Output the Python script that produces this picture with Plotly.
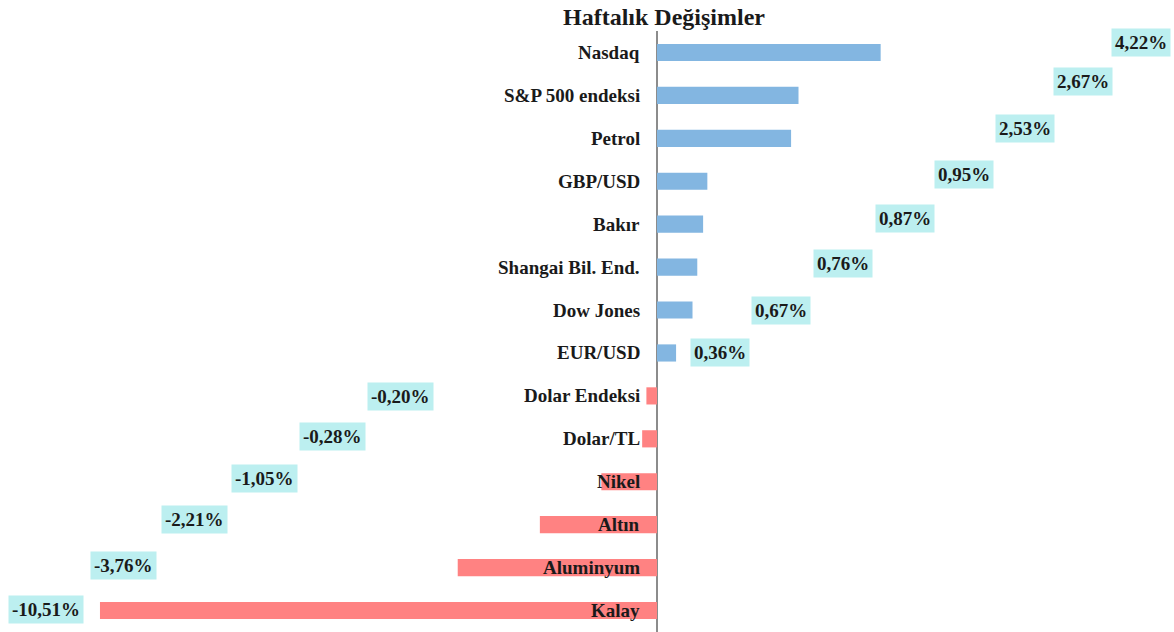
import plotly.graph_objects as go

# ---- data ----
categories = ["Nasdaq", "S&P 500 endeksi", "Petrol", "GBP/USD", "Bakır",
              "Shangai Bil. End.", "Dow Jones", "EUR/USD", "Dolar Endeksi",
              "Dolar/TL", "Nikel", "Altın", "Aluminyum", "Kalay"]
values = [4.22, 2.67, 2.53, 0.95, 0.87, 0.76, 0.67, 0.36,
          -0.20, -0.28, -1.05, -2.21, -3.76, -10.51]

# ---- layout parameters (pixel positions of value label boxes) ----
W, H = 1174, 632
zero_px = 657
px_per_unit = 53.0
label_center_px = [1141, 1083, 1025, 964, 905, 843, 781, 720,
                   400, 332, 264, 194, 123, 46]
label_yshift = [10, 14, 10, 7, 6, 4, 0, 0, -1, 2, 3, 5, 2, 1]

x_min = -zero_px / px_per_unit
x_max = (W - zero_px) / px_per_unit

BLUE = "#83B6E1"
RED = "#FF8282"
BOX = "#BCEFF0"
FONT = "Liberation Serif, Times New Roman, serif"

colors = [BLUE if v >= 0 else RED for v in values]

fig = go.Figure(go.Bar(
    x=values, y=categories, orientation="h",
    marker=dict(color=colors, line=dict(width=0)),
    hoverinfo="skip",
))

annotations = []
for cat in categories:
    annotations.append(dict(
        x=0, y=cat, xref="x", yref="y", text=f"<b>{cat}</b>",
        showarrow=False, xanchor="right", yanchor="middle", xshift=-15,
        font=dict(family=FONT, size=19, color="#1a1a1a"),
    ))

for cat, v, px, ys in zip(categories, values, label_center_px, label_yshift):
    txt = f"{v:.2f}".replace(".", ",") + "%"
    annotations.append(dict(
        x=(px - zero_px) / px_per_unit, y=cat, xref="x", yref="y",
        text=f"<b>{txt}</b>", showarrow=False, xanchor="center", yanchor="middle",
        yshift=ys, bgcolor=BOX, borderpad=3,
        font=dict(family=FONT, size=19, color="#1a1a1a"),
    ))

fig.update_layout(
    width=W, height=H,
    margin=dict(l=0, r=0, t=31, b=0),
    plot_bgcolor="white", paper_bgcolor="white",
    bargap=0.6,
    showlegend=False,
    title=dict(text="<b>Haftalık Değişimler</b>", x=664 / W, xanchor="center",
               y=1 - 17 / H, yref="container", yanchor="middle",
               font=dict(family=FONT, size=24, color="#1a1a1a")),
    xaxis=dict(range=[x_min, x_max], showgrid=False, showticklabels=False,
               zeroline=True, zerolinecolor="#8c8c8c", zerolinewidth=1.5,
               fixedrange=True),
    yaxis=dict(categoryorder="array", categoryarray=categories,
               autorange="reversed", showgrid=False, showticklabels=False,
               zeroline=False, fixedrange=True),
    annotations=annotations,
)

fig.write_html(
    "out.html",
    config={"displayModeBar": False},
    post_script="document.body.style.margin='0';document.body.style.overflow='hidden';",
)
